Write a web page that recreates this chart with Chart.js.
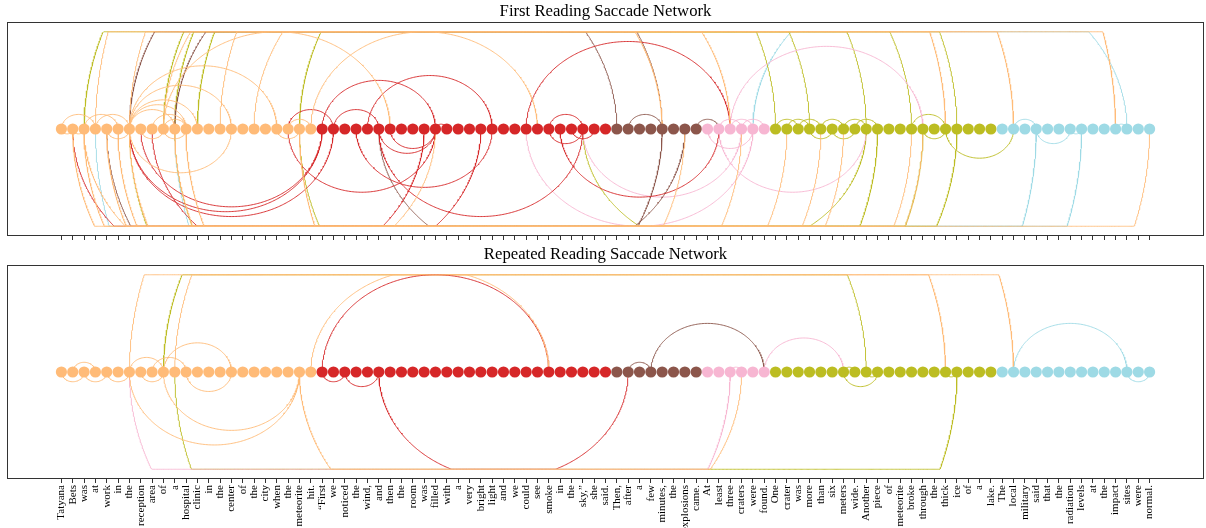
<!DOCTYPE html>
<html><head><meta charset="utf-8">
<script src="https://cdn.jsdelivr.net/npm/chart.js@4.4.0/dist/chart.umd.min.js"></script>
<style>
html,body{margin:0;padding:0;background:#fff;}
#wrap{position:relative;width:1206px;height:528px;overflow:hidden;background:#fff;}
canvas{position:absolute;left:0;}
</style></head><body>
<div id="wrap">
<canvas id="c1" style="top:0;width:1206px;height:240px" width="1206" height="240"></canvas>
<canvas id="c2" style="top:240px;width:1206px;height:288px" width="1206" height="288"></canvas>
</div>
<script>
const words = ["Tatyana","Bets","was","at","work","in","the","reception","area","of","a","hospital","clinic","in","the","center","of","the","city","when","the","meteorite","hit.",
"\u201CFirst","we","noticed","the","wind,","and","then","the","room","was","filled","with","a","very","bright","light","and","we","could","see","smoke","in","the","sky,\u201D","she","said.",
"Then,","after","a","few","minutes,","the","explosions","came.",
"At","least","three","craters","were","found.",
"One","crater","was","more","than","six","meters","wide.","Another","piece","of","meteorite","broke","through","the","thick","ice","of","a","lake.",
"The","local","military","said","that","the","radiation","levels","at","the","impact","sites","were","normal."];
const sentenceLengths = [23, 26, 8, 6, 20, 14];
const sentenceColors = ['#ffbb78','#d62728','#8c564b','#f7b6d2','#bcbd22','#9edae5'];

// saccades [from, to]; colour follows the "from" word
const firstUp = [[0,3],[2,5],[3,6],[6,10],[6,11],[6,12],[8,11],[9,11],[6,15],[6,19],[20,22],[22,42],[9,29],[3,93],[6,78],[14,84],[17,59],[9,53],
 [23,33],[27,38],[24,28],[24,20],[33,34],[41,59],[43,46],
 [53,6],[49,10],[50,53],[56,58],
 [59,76],[59,61],[60,62],[58,60],
 [63,2],[66,9],[71,10],[75,21],[79,12],[63,65],[64,66],[65,67],[67,69],[69,71],[70,72],[75,78],
 [94,61],[84,86],[93,94]];
const firstDown = [[0,1],[1,2],[4,6],[7,9],[9,11],[6,15],[19,21],[2,33],[1,55],[2,60],[4,64],[5,67],[6,69],[10,75],[11,76],[21,96],
 [23,6],[24,6],[23,7],[32,1],[44,58],[45,47],[43,46],[28,33],[29,33],[33,20],[26,38],[28,46],[37,8],
 [53,4],[55,28],
 [61,41],[60,46],[58,71],[57,61],
 [71,46],[72,6],[76,10],[79,21],[78,84],[76,78],[66,68],[68,70],
 [86,3],[90,10],[86,89],[89,90]];
const repeatUp = [[1,3],[6,9],[8,11],[9,15],[22,43],[23,43],[6,84],[10,78],[71,9],[50,52],[52,62],[59,60],[62,69],[69,70],[84,94]];
const repeatDown = [[0,2],[2,4],[4,6],[7,9],[11,15],[21,6],[21,9],[21,60],[59,6],[79,10],[23,25],[25,28],[28,50],[69,72],[71,72],[78,79],[94,96]];

const ARC_CAP = 10;
function groupOf(i){let s=0;for(let g=0;g<sentenceLengths.length;g++){s+=sentenceLengths[g];if(i<s)return g;}return sentenceLengths.length-1;}
function rgba(hex,a){const n=parseInt(hex.slice(1),16);return `rgba(${n>>16},${(n>>8)&255},${n&255},${a})`;}
function arcData(a,b,side){
  const r=Math.abs(b-a)/2, n=Math.max(40,Math.round(r*24)), pts=[];
  for(let k=0;k<=n;k++){const t=Math.PI*k/n;pts.push({x:a+(b-a)*(1-Math.cos(t))/2,y:side*Math.min(r*Math.sin(t),ARC_CAP)});}
  return pts;
}
function arcDs(s,t,side){return {data:arcData(s,t,side),showLine:true,pointRadius:0,pointHoverRadius:0,borderColor:rgba(sentenceColors[groupOf(s)],0.9),borderWidth:1,tension:0,fill:false};}
function makeDatasets(up,down){
  const ds=[{data:words.map((w,i)=>({x:i,y:0})),showLine:false,pointRadius:5.6,pointHoverRadius:5.6,
    pointBackgroundColor:words.map((w,i)=>sentenceColors[groupOf(i)]),pointBorderWidth:0}];
  up.forEach(([s,t])=>ds.push(arcDs(s,t,1)));
  down.forEach(([s,t])=>ds.push(arcDs(s,t,-1)));
  return ds;
}
const frame={id:'frame',afterDraw(chart){const {ctx,chartArea:a}=chart;ctx.save();ctx.strokeStyle='#333';ctx.lineWidth=1;
  ctx.strokeRect(Math.round(a.left)+0.5,Math.round(a.top)+0.5,Math.round(a.right-a.left)-1,Math.round(a.bottom-a.top)-1);ctx.restore();}};
function make(id,title,up,down,showLabels,titleTop,axisH){
  return new Chart(document.getElementById(id),{type:'scatter',
    data:{datasets:makeDatasets(up,down)},
    options:{responsive:false,animation:false,events:[],devicePixelRatio:1,
      layout:{autoPadding:false,padding:{left:7,right:2,top:0,bottom:0}},
      plugins:{legend:{display:false},tooltip:{enabled:false},
        title:{display:true,text:title,color:'#000',font:{family:'Liberation Serif',size:16.7,weight:'normal'},padding:{top:titleTop,bottom:0}}},
      scales:{
        x:{type:'linear',min:-4.8,max:100.8,
          afterBuildTicks:ax=>{ax.ticks=words.map((w,i)=>({value:i}));},
          afterFit:s=>{s.height=axisH;},
          ticks:{display:showLabels,autoSkip:false,minRotation:90,maxRotation:90,padding:2,color:'#000',
            font:{family:'Liberation Serif',size:11},callback:v=>words[v]},
          grid:{display:true,drawOnChartArea:false,drawTicks:true,tickLength:4,color:'#000',lineWidth:0.8},
          border:{display:false}},
        y:{display:false,min:-11,max:11}
      }},
    plugins:[frame]});
}
make('c1','First Reading Saccade Network',firstUp,firstDown,false,2,4);
make('c2','Repeated Reading Saccade Network',repeatUp,repeatDown,true,5,49);
</script>
</body></html>
